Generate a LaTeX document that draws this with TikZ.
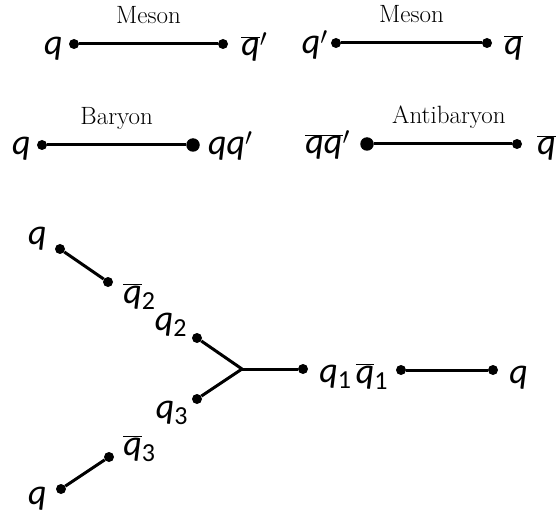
\documentclass[tikz,border=0pt]{standalone}
\usepackage{fontspec}
\newfontfamily\quarkfont{Carlito}
\usetikzlibrary{positioning}

\newcommand{\aq}{$\overline{\hbox{q}}$}
\newcommand{\flav}[1]{\raisebox{-6pt}{\upshape\fontsize{26}{28}\selectfont #1}}

\begin{document}
\begin{tikzpicture}[
    x=1pt, y=-1pt,
    dot/.style={
        fill=black,
        circle,
        inner sep=0pt,
        minimum size=10pt
    },
    bigdot/.style={
        dot,
        minimum size=13.5pt
    },
    string/.style={
        line width=3pt
    },
    quark/.style={
        font=\quarkfont\fontsize{36}{38}\selectfont\itshape,
        inner sep=0pt
    },
    hadron/.style={
        font=\fontsize{25}{27}\selectfont,
        inner sep=0pt,
        anchor=base,
        yshift=20pt
    }
]
\useasboundingbox (0,0) rectangle (557,513);

% ==========================================
% MESONS
% ==========================================

% Left meson
\node[dot] (m1) at (74,44) {};
\node[dot] (m2) at (223,44) {};
\draw[string] (m1) -- (m2);
\path (m1) -- node[hadron] {Meson} (m2);
\node[quark, left=6pt of m1, anchor=base east, yshift=-11pt] (lm1) {q};
\node[quark, right=13pt of m2, anchor=base west, yshift=-12pt] (lm2) {\aq$'$};

% Right meson
\node[dot] (m3) at (336,43) {};
\node[dot] (m4) at (487,43) {};
\draw[string] (m3) -- (m4);
\path (m3) -- node[hadron] {Meson} (m4);
\node[quark, left=3pt of m3, anchor=base east, yshift=-11pt] (lm3) {q$'$};
\node[quark, right=12pt of m4, anchor=base west, yshift=-12pt] (lm4) {\aq};

% ==========================================
% BARYON AND ANTIBARYON
% ==========================================

\node[dot] (b1) at (42,145) {};
\node[bigdot] (b2) at (193,145) {};
\draw[string] (b1) -- (b2);
\path (b1) -- node[hadron] {Baryon} (b2);
\node[quark, left=6pt of b1, anchor=base east, yshift=-10pt] (lb1) {q};
\node[quark, right=8pt of b2, anchor=base west, yshift=-10pt] (lb2) {qq$'$};

\node[bigdot] (a1) at (367,144) {};
\node[dot] (a2) at (517,144) {};
\draw[string] (a1) -- (a2);
\path (a1) -- node[hadron, xshift=6pt] {Antibaryon} (a2);
\node[quark, left=10pt of a1, anchor=base east, yshift=-10pt] (la1) {$\overline{\hbox{qq}}'$};
\node[quark, right=15pt of a2, anchor=base west, yshift=-11pt] (la2) {\aq};

% ==========================================
% JUNCTION
% ==========================================

% Upper leg
\node[dot] (s1) at (60,249) {};
\node[dot] (s2) at (108,282) {};
\draw[string] (s1) -- (s2);
\node[quark, left=8pt of s1, anchor=base east, yshift=4pt] (ls1) {q};
\node[quark, right=10pt of s2, anchor=base west, yshift=-21pt] (ls2) {\aq\flav{2}};

% Y shape
\coordinate (j) at (242,369);
\node[dot] (y2) at (197,338) {};
\node[dot] (y3) at (197,399) {};
\node[dot] (y1) at (303,369) {};
\draw[string] (y2) -- (j) -- (y3);
\draw[string] (j) -- (y1);
\node[quark, left=5pt of y2, anchor=base east, yshift=8pt] (ly2) {q\flav{2}};
\node[quark, left=4pt of y3, anchor=base east, yshift=-19pt] (ly3) {q\flav{3}};
\node[quark, right=11pt of y1, anchor=base west, yshift=-13pt] (ly1) {q\flav{1}};

% Right leg
\node[dot] (t1) at (401,370) {};
\node[dot] (t2) at (493,370) {};
\draw[string] (t1) -- (t2);
\node[quark, left=8pt of t1, anchor=base east, yshift=-13pt] (lt1) {\aq\flav{1}};
\node[quark, right=11pt of t2, anchor=base west, yshift=-13pt] (lt2) {q};

% Lower leg
\node[dot] (s3) at (109,457) {};
\node[dot] (s4) at (61,489) {};
\draw[string] (s3) -- (s4);
\node[quark, right=9pt of s3, anchor=base west, yshift=2pt] (ls3) {\aq\flav{3}};
\node[quark, left=9pt of s4, anchor=base east, yshift=-15pt] (ls4) {q};

\end{tikzpicture}
\end{document}
